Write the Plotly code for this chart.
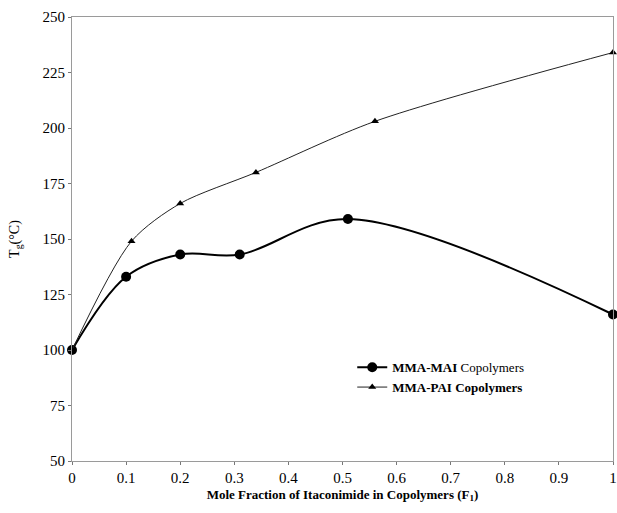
import plotly.graph_objects as go

mai_x = [0, 0.1, 0.2, 0.31, 0.51, 1.0]
mai_y = [100, 133, 143, 143, 159, 116]
pai_x = [0, 0.11, 0.2, 0.34, 0.56, 1.0]
pai_y = [100, 149, 166, 180, 203, 234]

x_ticks = [0, 0.1, 0.2, 0.3, 0.4, 0.5, 0.6, 0.7, 0.8, 0.9, 1.0]
x_tick_labels = ["0", "0.1", "0.2", "0.3", "0.4", "0.5", "0.6", "0.7", "0.8", "0.9", "1"]
y_ticks = [50, 75, 100, 125, 150, 175, 200, 225, 250]

font = "Liberation Serif, Times New Roman, serif"

fig = go.Figure()
fig.add_trace(go.Scatter(
    x=mai_x, y=mai_y, mode="lines+markers", name="<b>MMA-MAI</b> Copolymers",
    line=dict(color="black", width=2, shape="spline", smoothing=1.0),
    marker=dict(symbol="circle", size=10, color="black"),
    cliponaxis=False,
))
fig.add_trace(go.Scatter(
    x=pai_x, y=pai_y, mode="lines+markers", name="<b>MMA-PAI Copolymers</b>",
    line=dict(color="#222", width=1, shape="spline", smoothing=0.8),
    marker=dict(symbol="triangle-up", size=7, color="black"),
    cliponaxis=False,
))

fig.update_layout(
    width=617, height=513,
    margin=dict(l=72, r=4, t=17, b=52),
    paper_bgcolor="white", plot_bgcolor="white",
    font=dict(family=font, size=14, color="black"),
    showlegend=True,
    legend=dict(x=0.518, y=0.245, xanchor="left", yanchor="top",
                bgcolor="rgba(0,0,0,0)", font=dict(size=13, family=font, color="black"),
                itemwidth=30, tracegroupgap=0),
    xaxis=dict(
        range=[0, 1], tickvals=x_ticks, ticktext=x_tick_labels, automargin=False,
        showgrid=False, zeroline=False, showline=True, mirror=True,
        linecolor="#9a9a9a", linewidth=1, ticks="outside", ticklen=3,
        tickcolor="#777", tickfont=dict(size=15, family=font, color="black"),
        title=dict(text="<b>Mole Fraction of Itaconimide in Copolymers (F<sub>1</sub>)</b>",
                   font=dict(size=13, family=font, color="black"), standoff=4),
    ),
    yaxis=dict(
        range=[50, 250], tickvals=y_ticks, automargin=False,
        showgrid=False, zeroline=False, showline=True, mirror=True,
        linecolor="#9a9a9a", linewidth=1, ticks="outside", ticklen=3,
        tickcolor="#777", tickfont=dict(size=15, family=font, color="black"),
        title=dict(text="T<sub>g</sub>(°C)", font=dict(size=14, family=font, color="black"), standoff=19),
    ),
)

fig.write_html(
    "out.html",
    config={"displayModeBar": False},
    post_script="document.body.style.margin='0';document.body.style.overflow='hidden';",
)
